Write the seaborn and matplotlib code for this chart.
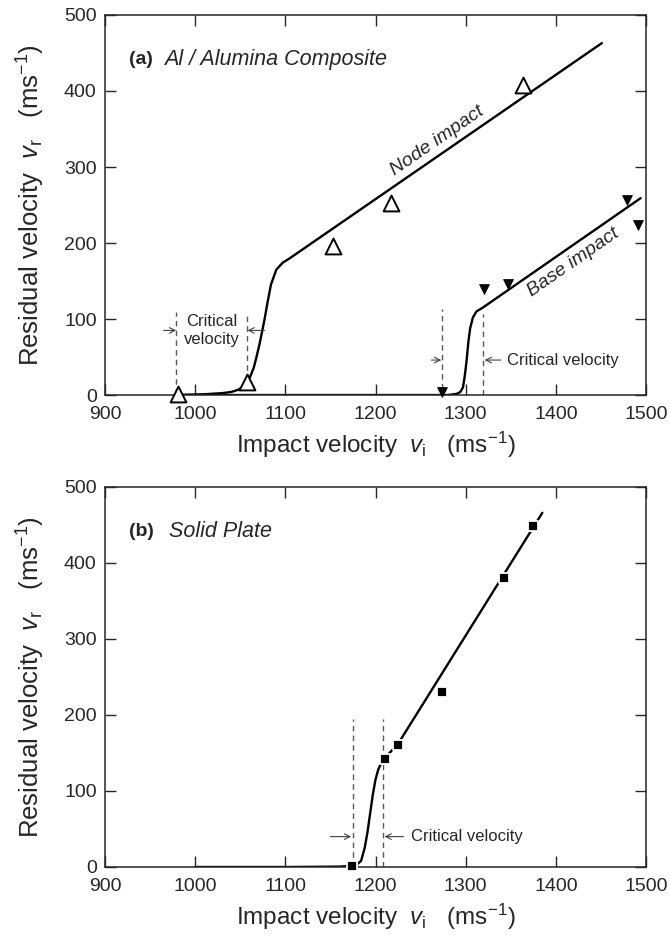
import numpy as np
import pandas as pd
import matplotlib
matplotlib.use("Agg")
import matplotlib.pyplot as plt
import seaborn as sns

# panel (a) - Al / alumina composite
node_x = [980, 1010, 1030, 1040, 1048, 1053, 1057, 1061, 1065, 1068, 1071, 1074, 1077, 1080, 1084, 1090, 1097, 1105, 1451]
node_y = [0, 1, 2.5, 4, 7, 11, 16, 24, 36, 50, 65, 82, 100, 120, 145, 165, 174, 180, 463]
base_x = [980, 1280, 1290, 1294, 1297, 1299, 1301, 1303, 1305, 1308, 1312, 1319, 1494]
base_y = [0, 0, 1.5, 4, 10, 25, 45, 70, 88, 102, 110, 115, 259]
node_pts_x = [981, 1057, 1153, 1217, 1364]
node_pts_y = [2, 17, 196, 253, 408]
base_pts_x = [1274, 1320, 1347, 1479, 1491]
base_pts_y = [4, 139, 146, 256, 224]

# panel (b) - solid plate
solid_x = [1000, 1100, 1160, 1178, 1184, 1188, 1191, 1194, 1197, 1200, 1203, 1206, 1210, 1225, 1385]
solid_y = [0, 0, 0.5, 2, 8, 25, 45, 70, 95, 115, 128, 136, 143, 162, 466]
solid_pts_x = [1174, 1210, 1225, 1274, 1342, 1375]
solid_pts_y = [1, 142, 161, 230, 380, 448]

xticks = [900, 1000, 1100, 1200, 1300, 1400, 1500]
yticks = [0, 100, 200, 300, 400, 500]

sns.set_style("ticks")
plt.rcParams["font.family"] = ["Liberation Sans", "DejaVu Sans"]
plt.rcParams["mathtext.fontset"] = "custom"
plt.rcParams["mathtext.rm"] = "Liberation Sans"
plt.rcParams["mathtext.it"] = "Liberation Sans:italic"

fig = plt.figure(figsize=(6.7, 9.43), dpi=100)
ax1 = fig.add_axes([0.1567, 0.5811, 0.8075, 0.403])
ax2 = fig.add_axes([0.1567, 0.0806, 0.8075, 0.403])

dash_kw = dict(color="0.35", lw=1.0, ls=(0, (4, 3)))
arrow_kw = dict(arrowstyle="->", color="0.25", lw=0.8, shrinkA=0, shrinkB=0)

def style(ax):
    ax.set_xlim(900, 1500)
    ax.set_ylim(0, 500)
    ax.set_xticks(xticks)
    ax.set_yticks(yticks)
    ax.tick_params(direction="in", length=8, width=1, top=True, right=True,
                   labelsize=14)
    ax.tick_params(axis="x", pad=8)
    ax.tick_params(axis="y", pad=6)
    for s in ax.spines.values():
        s.set_linewidth(1.1)
        s.set_visible(True)
    ax.set_xlabel(r"Impact velocity  $v_{\rm i}$   (ms$^{-1}$)", fontsize=17.5, labelpad=5)
    ax.set_ylabel(r"Residual velocity  $v_{\rm r}$   (ms$^{-1}$)", fontsize=18.5, labelpad=12)

# ---- (a)
sns.lineplot(x=node_x, y=node_y, ax=ax1, color="black", lw=1.7, sort=False, estimator=None)
sns.lineplot(x=base_x, y=base_y, ax=ax1, color="black", lw=1.7, sort=False, estimator=None)
sns.scatterplot(x=node_pts_x, y=node_pts_y, ax=ax1, marker="^", s=130, facecolor="white",
                edgecolor="black", linewidth=1.4, zorder=5, clip_on=False)
sns.scatterplot(x=base_pts_x, y=base_pts_y, ax=ax1, marker="v", s=50, color="black",
                edgecolor="black", zorder=5, clip_on=False)
for xv, y0, y1 in [(979, 1, 109), (1057, 20, 109), (1274, 8, 113), (1319, 0, 106)]:
    ax1.plot([xv, xv], [y0, y1], **dash_kw)
ax1.annotate("", xy=(979, 85), xytext=(965, 85), arrowprops=arrow_kw)
ax1.annotate("", xy=(1058, 85), xytext=(1077, 85), arrowprops=arrow_kw)
ax1.text(1018, 85, "Critical\nvelocity", ha="center", va="center", fontsize=12, linespacing=1.25)
ax1.annotate("", xy=(1273, 46), xytext=(1262, 46), arrowprops=arrow_kw)
ax1.annotate("", xy=(1321, 46), xytext=(1339, 46), arrowprops=arrow_kw)
ax1.text(1346, 46, "Critical velocity", ha="left", va="center", fontsize=12)
ax1.text(927, 441, "(a)", fontweight="bold", fontsize=14, va="center")
ax1.text(966, 441, "Al / Alumina Composite", style="italic", fontsize=15.5, va="center")
ax1.text(1269, 335, "Node impact", rotation=34.6, style="italic", fontsize=14,
         ha="center", va="center", rotation_mode="anchor")
ax1.text(1419, 174, "Base impact", rotation=34.7, style="italic", fontsize=14,
         ha="center", va="center", rotation_mode="anchor")
style(ax1)

# ---- (b)
sns.lineplot(x=solid_x, y=solid_y, ax=ax2, color="black", lw=1.7, sort=False, estimator=None)
sns.scatterplot(x=solid_pts_x, y=solid_pts_y, ax=ax2, marker="s", s=60, color="black",
                edgecolor="white", linewidth=1.3, zorder=5, clip_on=False)
for xv in [1174.5, 1208.5]:
    ax2.plot([xv, xv], [0, 195], **dash_kw)
ax2.annotate("", xy=(1173, 40), xytext=(1150, 40), arrowprops=arrow_kw)
ax2.annotate("", xy=(1210, 40), xytext=(1231, 40), arrowprops=arrow_kw)
ax2.text(1239, 40, "Critical velocity", ha="left", va="center", fontsize=12)
ax2.text(927, 441, "(b)", fontweight="bold", fontsize=14, va="center")
ax2.text(971, 441, "Solid Plate", style="italic", fontsize=15.5, va="center")
style(ax2)

fig.savefig("out.png", dpi=100)
